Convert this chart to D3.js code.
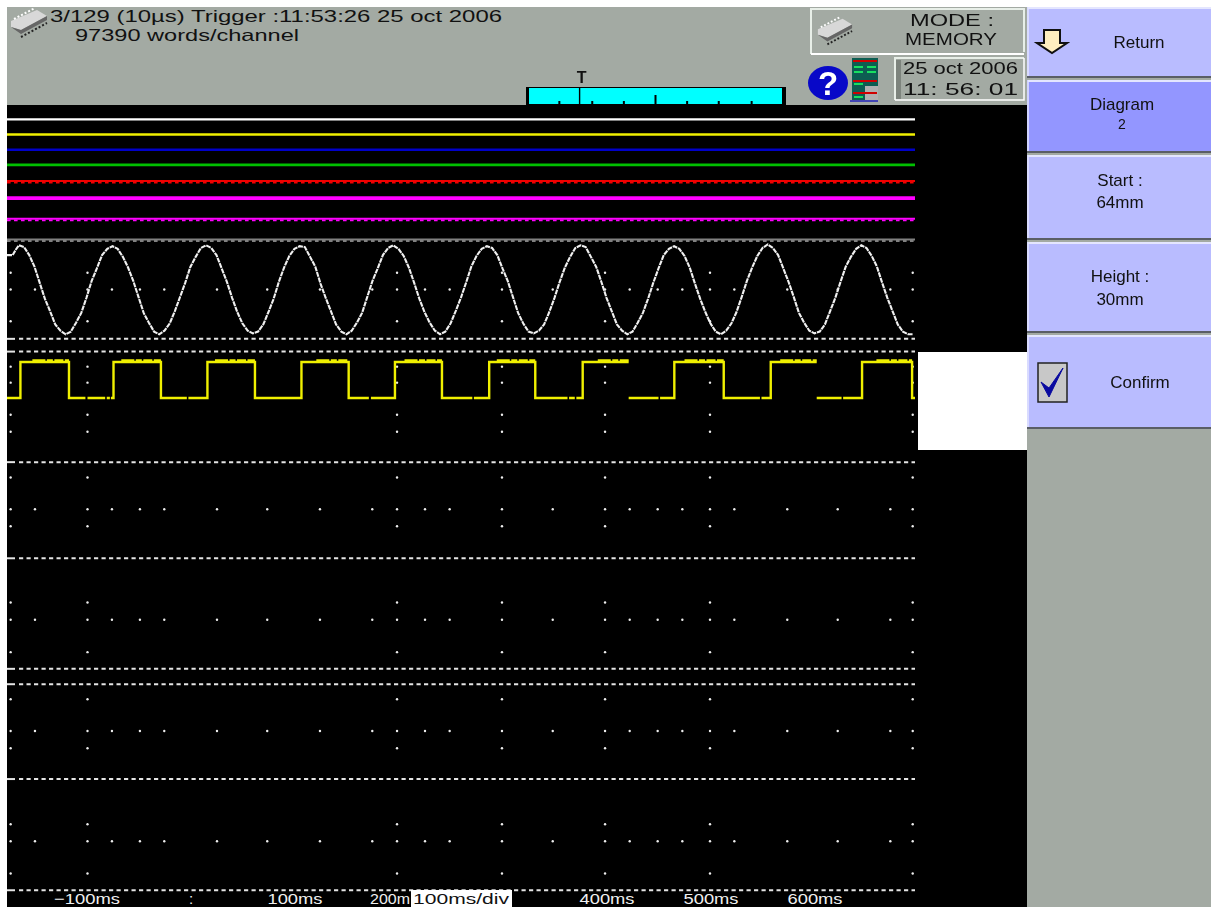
<!DOCTYPE html>
<html>
<head>
<meta charset="utf-8">
<title>Recorder screen</title>
<script src="https://cdn.jsdelivr.net/npm/d3@7"></script>
<style>
  body { margin: 0; background: #fff; }
  svg { display: block; filter: blur(0.35px); }
  text { font-family: "Liberation Sans", sans-serif; fill: #111; }
</style>
</head>
<body>
<svg id="chart" width="1211" height="907"></svg>
<script>
// flat channels, level in mm from the top of the paper
const channelLevels = [4.4, 9.0, 13.7, 18.3, 23.2, 28.5, 34.8, 41.1];
const channelColors = ['#ffffff', '#f0f000', '#0000c8', '#00c000', '#f00000', '#ff00ff', '#ff00ff', '#808080'];
const channelWidths = [2.4, 2.4, 2.4, 2.6, 2, 3.8, 2, 2];
const channelRipple = [false, false, false, false, true, false, true, true];

// grid
const dashedRows = [71.5, 75.4, 109.2, 138.6, 172.4, 177.1, 206.1, 240.1];
const majorRows = [51.3, 66.1, 80.0, 84.9, 94.7, 99.9, 113.9, 128.8, 152.1, 167.3, 181.7, 196.7, 219.9, 235.0];
const minorRows = [56.4, 123.6, 157.4, 191.4, 225.1];
const majorCols = [-172.9, -99.0, 198.6, 299.5, 398.6, 499.5, 694.4];
const minorCols = [-149.5, -75.5, -48.6, -25.2, 25.5, 73.8, 124.5, 174.8, 225.5, 249.2, 348.3,
  422.3, 449.2, 472.9, 522.9, 573.8, 622.3, 672.9];

// time axis, the 200 label is cut to 200m on the device by the box next to it
const timeTicks = [-100, 0, 100, 200, 400, 500, 600];
const timeLabels = ['\u2212100ms', ':', '100ms', '200m', '400ms', '500ms', '600ms'];

// sine channel: volts, first the three odd start samples, then one each 5 ms from -165 ms
const sineStartTimes = [-176.4, -171, -168];
const sineStartVolts = [3.9, 3.9, 4.5];
const sineVolts = [
  5.0, 4.8, 3.9, 2.6, 0.8, -1.0, -2.4, -3.9, -4.6, -5.0, -4.7, -3.7, -2.6, -0.9, 1.0, 2.4, 3.9, 4.6,
  4.9, 4.6, 3.7, 2.5, 1.0, -0.8, -2.6, -3.7, -4.7, -5.0, -4.6, -3.8, -2.4, -0.8, 0.8, 2.6, 3.7, 4.7,
  5.0, 4.7, 3.9, 2.4, 0.9, -0.9, -2.5, -3.8, -4.6, -4.9, -4.7, -3.9, -2.5, -1.0, 0.9, 2.5, 3.8, 4.6,
  4.9, 4.8, 3.7, 2.6, 0.7, -0.9, -2.4, -3.9, -4.7, -5.0, -4.6, -3.7, -2.6, -0.8, 1.0, 2.4, 3.9, 4.7,
  5.0, 4.6, 3.8, 2.5, 0.8, -1.0, -2.5, -3.7, -4.6, -5.0, -4.7, -3.8, -2.4, -0.9, 0.8, 2.6, 3.8, 4.6,
  4.9, 4.7, 3.9, 2.4, 1.0, -0.8, -2.6, -3.8, -4.7, -4.9, -4.6, -3.9, -2.5, -0.9, 0.9, 2.5, 3.7, 4.7,
  5.0, 4.8, 3.7, 2.6, 0.9, -0.9, -2.4, -3.9, -4.6, -5.0, -4.7, -3.7, -2.6, -1.0, 0.8, 2.4, 3.9, 4.6,
  4.9, 4.6, 3.8, 2.5, 0.7, -1.0, -2.5, -3.8, -4.7, -5.0, -4.6, -3.8, -2.5, -0.8, 1.0, 2.5, 3.8, 4.7,
  5.1, 4.7, 3.9, 2.4, 0.9, -0.8, -2.6, -3.7, -4.6, -4.9, -4.7, -3.9, -2.4, -0.9, 0.9, 2.6, 3.7, 4.6,
  5.0, 4.7, 3.8, 2.6, 0.8, -0.9, -2.4, -3.9, -4.7, -5.0, -5.0
];

// square channel: time in ms and level 0/1, null where the trace breaks
const squareTimes = [-176.4, -163.5, -116.8, -101, -101, -99, -82, -82, -80.5, -77.5, -77.5, -76.5, -74,
  -28.4, -3.5, -3.5, -2, 16.3, 62, 106.7, 152.1, 171.5, 171.5, 173.5, 196.6,
  241.8, 271, 271, 272.5, 287.2, 331.5, 362.5, 362.5, 364, 369.5, 369.5, 371, 377.1,
  421.3, 421.3, 421.3, 450, 450, 451.5, 465.2, 512.7, 547.5, 547.5, 549, 557.9,
  602.1, 602.1, 602.1, 626, 626, 627.5, 645.7, 693.8, 696.6];
const squareLevels = [0, 1, 0, 0, null, 0, 0, null, 0, 0, null, 0, 1,
  0, 0, null, 0, 1, 0, 1, 0, 0, null, 0, 1,
  0, 0, null, 0, 1, 0, 0, null, 0, 0, null, 0, 1,
  1, null, 0, 0, null, 0, 1, 0, 0, null, 0, 1,
  1, null, 0, 0, null, 0, 1, 0, 0];
// the noisy top of each high level
const squareTopStart = [-152, -66.5, 23.6, 121, 205.8, 294.5, 391.6, 475, 567, 659.5];
const squareTopEnd = [-116.8, -28.4, 62, 152.1, 241.8, 331.5, 421.3, 512.7, 602.1, 693.8];

// memory overview bar, percent of the record
const overviewTicks = [12, 25, 37.5, 62.5, 75, 88];
const overviewCentre = 50;
const overviewTrigger = 20;

// side buttons
const buttonTop = [7, 80, 155, 242, 335];
const buttonBottom = [76, 151, 238, 331, 427];
const buttonFill = ['#b9bcff', '#9396ff', '#b9bcff', '#b9bcff', '#b9bcff'];
const buttonLines = [['Return'], ['Diagram', '2'], ['Start :', '64mm'], ['Height :', '30mm'], ['Confirm']];

const svg = d3.select('#chart');
const x = d3.scaleLinear().domain([-176.4, 696.6]).range([7, 915]);
const y = d3.scaleLinear().domain([0, 244]).range([105, 903]);
const sineY = d3.scaleLinear().domain([-5, 5]).range([y(70.1), y(42.9)]);
const squareY = d3.scaleLinear().domain([0, 1]).range([y(89.6), y(78.6)]);
const overviewX = d3.scaleLinear().domain([0, 100]).range([529, 782]);
const grey = '#a3aaa3';

// backgrounds
svg.append('rect').attr('x', 7).attr('y', 7).attr('width', 1204).attr('height', 900).attr('fill', grey);
svg.append('rect').attr('x', 7).attr('y', 105).attr('width', 1020).attr('height', 802).attr('fill', '#000');
svg.append('rect').attr('x', 918).attr('y', 352).attr('width', 109).attr('height', 98).attr('fill', '#fff');

// grid dots
const dots = [];
majorRows.forEach(r => majorCols.forEach(c => dots.push([c, r])));
minorRows.forEach(r => majorCols.concat(minorCols).forEach(c => dots.push([c, r])));
svg.append('g').selectAll('circle').data(dots).join('circle')
  .attr('cx', d => x(d[0])).attr('cy', d => y(d[1])).attr('r', 1.2).attr('fill', '#eee');

// dashed rows
const rows = svg.append('g').attr('stroke', '#e4e4e4').attr('stroke-width', 2);
rows.selectAll('.dash').data(dashedRows).join('line').attr('class', 'dash')
  .attr('x1', 19).attr('x2', 915).attr('y1', d => y(d)).attr('y2', d => y(d))
  .attr('stroke-dasharray', '4.2 3.3');
rows.selectAll('.lead').data(dashedRows).join('line').attr('class', 'lead')
  .attr('x1', 7).attr('x2', 15).attr('y1', d => y(d)).attr('y2', d => y(d));

// flat channels
const channels = svg.append('g');
channels.selectAll('.flat').data(channelLevels).join('line').attr('class', 'flat')
  .attr('x1', x(-176.4)).attr('x2', x(696.6))
  .attr('y1', d => y(d)).attr('y2', d => y(d))
  .attr('stroke', (d, i) => channelColors[i])
  .attr('stroke-width', (d, i) => channelWidths[i]);
channels.selectAll('.ripple').data(channelLevels.filter((d, i) => channelRipple[i])).join('line')
  .attr('class', 'ripple')
  .attr('x1', x(-176.4)).attr('x2', x(696.6))
  .attr('y1', d => y(d) + 1.6).attr('y2', d => y(d) + 1.6)
  .attr('stroke', d => channelColors[channelLevels.indexOf(d)])
  .attr('stroke-width', 1.8).attr('stroke-dasharray', '3.6 3.4');

// sine channel
const sineTimes = sineStartTimes.concat(d3.range(-165, -165 + 5 * sineVolts.length, 5));
const sinePoints = sineTimes.map((t, i) => [t, sineStartVolts.concat(sineVolts)[i]]);
svg.append('path').datum(sinePoints)
  .attr('fill', 'none').attr('stroke', '#f0f0f0').attr('stroke-width', 2.1)
  .attr('stroke-dasharray', '5 0.8')
  .attr('d', d3.line().x(d => x(d[0])).y(d => sineY(d[1])));

// square channel
const squarePoints = squareTimes.map((t, i) => [t, squareLevels[i]]);
svg.append('path').datum(squarePoints)
  .attr('fill', 'none').attr('stroke', '#f0f000').attr('stroke-width', 2.4)
  .attr('d', d3.line().defined(d => d[1] !== null).curve(d3.curveStepAfter)
    .x(d => x(d[0])).y(d => squareY(d[1])));
svg.append('g').selectAll('line').data(squareTopStart).join('line')
  .attr('x1', d => x(d)).attr('x2', (d, i) => x(squareTopEnd[i]))
  .attr('y1', squareY(1) - 1.8).attr('y2', squareY(1) - 1.8)
  .attr('stroke', '#f0f000').attr('stroke-width', 2).attr('stroke-dasharray', '13 1.5 6 1.5 9 1.5');

// time axis
const axis = d3.axisBottom(x).tickValues(timeTicks).tickSize(0)
  .tickFormat((d, i) => timeLabels[i]);
const axisG = svg.append('g').attr('transform', 'translate(0,890)').call(axis);
axisG.select('.domain').remove();
axisG.selectAll('text').style('fill', '#f0f0f0').style('font-size', '15px')
  .attr('dx', d => d === 200 ? -9 : 0)
  .attr('textLength', (d, i) => timeLabels[i].length > 1 ? (i === 0 ? 66 : (d === 200 ? 40 : 55)) : null)
  .attr('lengthAdjust', 'spacingAndGlyphs');
svg.append('rect').attr('x', 411).attr('y', 890).attr('width', 101).attr('height', 17).attr('fill', '#fff');
svg.append('text').attr('x', 461).attr('y', 904).attr('text-anchor', 'middle')
  .attr('font-size', 14).attr('textLength', 96).attr('lengthAdjust', 'spacingAndGlyphs').text('100ms/div');

// header texts
function label(txt, px, py, size, opts) {
  const o = opts || {};
  const t = svg.append('text').attr('x', px).attr('y', py).attr('font-size', size)
    .attr('text-anchor', o.anchor || 'start').text(txt);
  if (o.len) t.attr('textLength', o.len).attr('lengthAdjust', 'spacingAndGlyphs');
  return t;
}
label('3/129  (10\u00b5s)   Trigger :11:53:26 25 oct 2006', 50, 22, 16.5, { len: 452 });
label('97390  words/channel', 75, 41, 16.5, { len: 224 });

// little memory chip icon
function chip(cx, cy, s) {
  const g = svg.append('g').attr('transform', `translate(${cx},${cy}) scale(${s})`);
  g.append('polygon').attr('points', '-18,-3 8,-14 18,-8 -8,6 -18,3').attr('fill', '#d8d8d8');
  g.append('polygon').attr('points', '-8,6 18,-8 18,-4 -8,10 -18,3').attr('fill', '#666');
  g.append('line').attr('x1', -15).attr('y1', -5).attr('x2', 6).attr('y2', -16)
    .attr('stroke', '#fff').attr('stroke-width', 2).attr('stroke-dasharray', '2 2');
  g.append('line').attr('x1', -8).attr('y1', 13).attr('x2', 18).attr('y2', -1)
    .attr('stroke', '#222').attr('stroke-width', 2).attr('stroke-dasharray', '2 2');
}
chip(29, 24, 1);
chip(835, 32, 0.95);

// mode box
svg.append('path').attr('d', 'M811,54 V9 H1024 V52').attr('fill', 'none').attr('stroke', '#e8efe8').attr('stroke-width', 2);
svg.append('path').attr('d', 'M811,54 H1024').attr('stroke', '#fff').attr('stroke-width', 2);
label('MODE :', 952, 26, 16.5, { anchor: 'middle', len: 84 });
label('MEMORY', 951, 45, 16.5, { anchor: 'middle', len: 92 });

// help icon
svg.append('ellipse').attr('cx', 828).attr('cy', 83).attr('rx', 20).attr('ry', 17).attr('fill', '#0808c8');
svg.append('text').attr('x', 828).attr('y', 95).attr('text-anchor', 'middle')
  .attr('font-size', 33).attr('font-weight', 'bold').style('fill', '#fff').text('?');

// recorder icon
const bars = svg.append('g');
bars.append('rect').attr('x', 852).attr('y', 58).attr('width', 26).attr('height', 42).attr('fill', '#0d5d52');
bars.append('rect').attr('x', 865).attr('y', 86).attr('width', 13).attr('height', 14).attr('fill', '#b0b0b0');
[60, 80, 92].forEach(v => bars.append('rect').attr('x', 853).attr('y', v).attr('width', 24).attr('height', 2).attr('fill', '#d00000'));
[66, 71, 83, 96].forEach(v => bars.append('rect').attr('x', 854).attr('y', v).attr('width', 9).attr('height', 2).attr('fill', '#18e060'));
[66, 71].forEach(v => bars.append('rect').attr('x', 867).attr('y', v).attr('width', 9).attr('height', 2).attr('fill', '#18e060'));
bars.append('line').attr('x1', 850).attr('x2', 878).attr('y1', 101).attr('y2', 101).attr('stroke', '#0000c0').attr('stroke-width', 1.2);

// date box
svg.append('path').attr('d', 'M895,100 V58 H1024').attr('fill', 'none').attr('stroke', '#e8efe8').attr('stroke-width', 2);
svg.append('path').attr('d', 'M895,100 H1024 V58').attr('fill', 'none').attr('stroke', '#fff').attr('stroke-width', 1.5);
svg.append('rect').attr('x', 896).attr('y', 60).attr('width', 5).attr('height', 39).attr('fill', '#7d847d');
label('25 oct 2006', 903, 74, 17, { len: 115 });
label('11: 56: 01', 903, 95, 17, { len: 115 });

// overview bar
const bar = svg.append('g');
bar.append('rect').attr('x', 526).attr('y', 87).attr('width', 260).attr('height', 18).attr('fill', '#000');
bar.append('rect').attr('x', overviewX(0)).attr('y', 88).attr('width', overviewX(100) - overviewX(0)).attr('height', 16).attr('fill', '#00ffff');
bar.selectAll('.tk').data(overviewTicks).join('rect').attr('class', 'tk')
  .attr('x', d => overviewX(d) - 1).attr('y', 101).attr('width', 2).attr('height', 4).attr('fill', '#000');
bar.append('rect').attr('x', overviewX(overviewCentre) - 1).attr('y', 95).attr('width', 2).attr('height', 10).attr('fill', '#000');
bar.append('rect').attr('x', overviewX(overviewTrigger) - 0.7).attr('y', 87).attr('width', 1.4).attr('height', 18).attr('fill', '#000');
svg.append('text').attr('x', overviewX(overviewTrigger) + 2).attr('y', 83).attr('text-anchor', 'middle')
  .attr('font-size', 16).attr('font-weight', 'bold').text('T');

// side buttons
const buttons = svg.append('g').selectAll('g').data(buttonTop).join('g');
buttons.append('rect').attr('x', 1027).attr('y', d => d).attr('width', 184)
  .attr('height', (d, i) => buttonBottom[i] - d).attr('fill', (d, i) => buttonFill[i]);
buttons.append('line').attr('x1', 1027).attr('x2', 1211).attr('y1', (d, i) => buttonBottom[i] + 1).attr('y2', (d, i) => buttonBottom[i] + 1)
  .attr('stroke', '#5a5e66').attr('stroke-width', 2);
buttons.append('line').attr('x1', 1028).attr('x2', 1211).attr('y1', d => d + 1).attr('y2', d => d + 1)
  .attr('stroke', '#e4e6ff').attr('stroke-width', 2);
buttons.append('line').attr('x1', 1028).attr('x2', 1028).attr('y1', d => d).attr('y2', (d, i) => buttonBottom[i])
  .attr('stroke', '#e4e6ff').attr('stroke-width', 1.5);

const buttonTextY = [[48], [110, 129], [186, 208], [282, 305], [388]];
const buttonTextX = [1139, 1122, 1120, 1120, 1140];
buttonLines.forEach((lines, i) => lines.forEach((t, j) => {
  label(t, buttonTextX[i], buttonTextY[i][j], j === 1 && i === 1 ? 14 : 17, { anchor: 'middle' });
}));

// return arrow
svg.append('path').attr('d', 'M1044,30 H1060 V43 H1067 L1052,53 L1037,43 H1044 Z')
  .attr('fill', '#ffefc0').attr('stroke', '#111').attr('stroke-width', 2);

// confirm box
svg.append('rect').attr('x', 1038).attr('y', 363).attr('width', 29).attr('height', 39)
  .attr('fill', '#c8c8c8').attr('stroke', '#222').attr('stroke-width', 1.5);
svg.append('path').attr('d', 'M1041,382 L1049,397 L1063,368 L1049,388 Z').attr('fill', '#0a0aa0').attr('stroke', '#0a0aa0');
</script>
</body>
</html>
